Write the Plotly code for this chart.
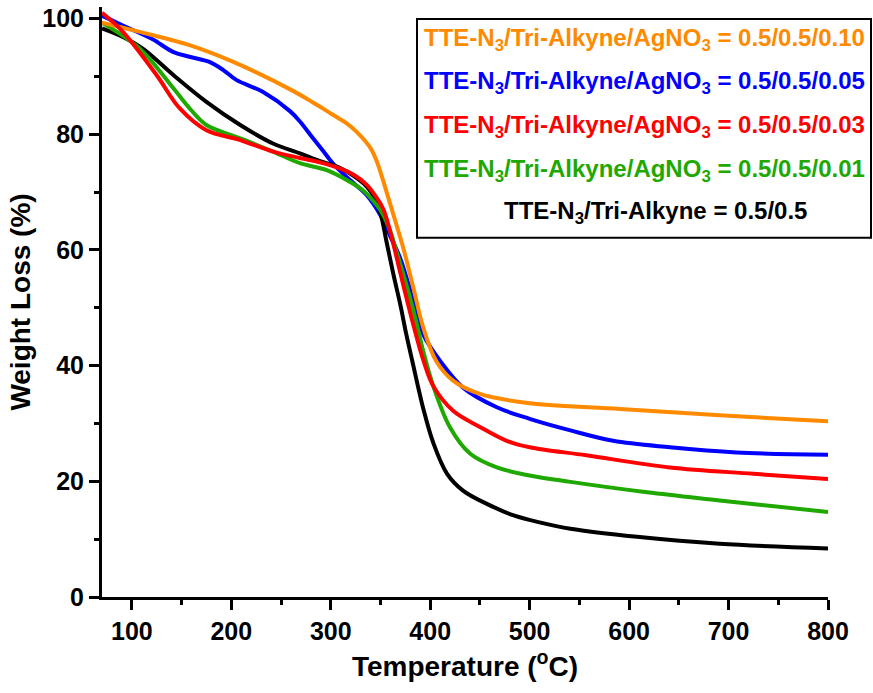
import plotly.graph_objects as go

# Temperature (°C) and weight (%)
x_010 = [70, 108, 158, 202, 262, 283, 300, 315, 326, 340, 347, 353, 363, 373, 383, 393, 406, 423, 450, 500, 591, 691, 800]
y_010 = [99.3, 97.7, 95.4, 92.5, 87.5, 85.4, 83.6, 82.0, 80.4, 77.6, 75.0, 71.8, 66.1, 60.3, 53.5, 46.6, 40.8, 37.4, 35.1, 33.5, 32.5, 31.4, 30.4]

x_005 = [70, 91, 120, 142, 158, 178, 192, 205, 232, 259, 269, 280, 292, 303, 320, 336, 350, 360, 370, 383, 393, 410, 433, 467, 500, 541, 584, 641, 708, 800]
y_005 = [100.5, 98.8, 96.5, 94.2, 93.4, 92.5, 91.1, 89.4, 87.3, 84.0, 82.2, 79.8, 77.2, 74.8, 72.0, 69.5, 66.0, 62.3, 58.5, 51.2, 45.4, 40.8, 36.2, 32.8, 30.8, 28.8, 27.0, 25.9, 25.0, 24.6]

x_003 = [70, 91, 125, 148, 175, 209, 242, 269, 290, 309, 323, 336, 345, 353, 363, 370, 383, 393, 403, 423, 450, 477, 500, 557, 641, 725, 800]
y_003 = [101.0, 97.7, 90.2, 84.5, 80.7, 79.0, 77.0, 75.9, 75.1, 74.1, 73.0, 71.3, 69.3, 67.0, 61.0, 56.0, 47.1, 41.0, 36.5, 32.2, 29.4, 27.0, 25.9, 24.5, 22.4, 21.3, 20.4]

x_001 = [70, 108, 142, 158, 175, 209, 242, 269, 296, 319, 333, 346, 353, 360, 366, 376, 385, 393, 403, 420, 440, 467, 500, 541, 618, 691, 800]
y_001 = [99.3, 94.8, 87.9, 84.5, 81.6, 79.3, 77.0, 75.0, 73.8, 71.8, 70.2, 67.8, 66.0, 63.2, 59.8, 54.0, 48.3, 42.5, 36.5, 29.3, 24.8, 22.4, 21.0, 19.9, 18.1, 16.7, 14.7]

x_ctrl = [70, 91, 111, 142, 175, 209, 242, 269, 290, 309, 323, 336, 343, 350, 356, 363, 370, 376, 382, 393, 403, 417, 433, 457, 484, 510, 541, 608, 691, 800]
y_ctrl = [98.3, 96.8, 94.8, 90.2, 85.6, 81.6, 78.4, 76.7, 75.3, 74.2, 72.8, 71.0, 69.3, 66.3, 61.5, 55.8, 50.5, 45.4, 40.8, 32.6, 26.7, 21.3, 18.4, 16.1, 14.1, 12.9, 11.8, 10.4, 9.2, 8.4]

labels = [
    "TTE-N<sub>3</sub>/Tri-Alkyne/AgNO<sub>3</sub> = 0.5/0.5/0.10",
    "TTE-N<sub>3</sub>/Tri-Alkyne/AgNO<sub>3</sub> = 0.5/0.5/0.05",
    "TTE-N<sub>3</sub>/Tri-Alkyne/AgNO<sub>3</sub> = 0.5/0.5/0.03",
    "TTE-N<sub>3</sub>/Tri-Alkyne/AgNO<sub>3</sub> = 0.5/0.5/0.01",
    "TTE-N<sub>3</sub>/Tri-Alkyne = 0.5/0.5",
]
colors = ["#FF8A00", "#0000FF", "#FF0000", "#1EA800", "#000000"]

series = {
    0: (x_010, y_010),
    1: (x_005, y_005),
    2: (x_003, y_003),
    3: (x_001, y_001),
    4: (x_ctrl, y_ctrl),
}
draw_order = [1, 4, 3, 0, 2]

FONT = "Arial, 'Liberation Sans', sans-serif"

fig = go.Figure()
for i in draw_order:
    xs, ys = series[i]
    fig.add_trace(go.Scatter(
        x=xs, y=ys, mode="lines",
        line=dict(color=colors[i], width=4, shape="spline", smoothing=1.0),
        showlegend=False, name=labels[i],
    ))

fig.update_layout(
    width=873, height=693,
    margin=dict(l=102, r=45, t=4, b=96),
    plot_bgcolor="white", paper_bgcolor="white",
    font=dict(family=FONT, color="black"),
)

fig.update_xaxes(
    range=[70, 800], showgrid=False, zeroline=False,
    showline=True, linecolor="black", linewidth=3,
    ticks="outside", ticklen=10, tickwidth=3, tickcolor="black",
    tickvals=[100, 200, 300, 400, 500, 600, 700, 800],
    tickfont=dict(size=25, family=FONT, weight="bold"),
    minor=dict(ticks="outside", ticklen=5, tickwidth=3, tickcolor="black",
               tickvals=[150, 250, 350, 450, 550, 650, 750]),
    title=dict(text="Temperature (<sup>o</sup>C)", font=dict(size=28, family=FONT, weight="bold"), standoff=13),
)
fig.update_yaxes(
    range=[0, 102], showgrid=False, zeroline=False,
    showline=True, linecolor="black", linewidth=3,
    ticks="outside", ticklen=10, tickwidth=3, tickcolor="black",
    tickvals=[0, 20, 40, 60, 80, 100],
    tickfont=dict(size=25, family=FONT, weight="bold"),
    minor=dict(ticks="outside", ticklen=5, tickwidth=3, tickcolor="black",
               tickvals=[10, 30, 50, 70, 90]),
    title=dict(text="Weight Loss (%)", font=dict(size=28, family=FONT, weight="bold"), standoff=4),
)

# legend box drawn as shape + text annotations
L, R, T, B = 102, 828, 4, 597
def px_to_paper(px, py):
    return (px - L) / (R - L), (B - py) / (B - T)

x0, y0 = px_to_paper(417, 16)
x1, y1 = px_to_paper(871, 236)
fig.add_shape(type="rect", xref="paper", yref="paper", x0=x0, y0=y1, x1=x1, y1=y0,
              line=dict(color="black", width=2), fillcolor="white", layer="above")

rows_y = [37, 80, 124, 168, 211]
for k, (lab, col) in enumerate(zip(labels, colors)):
    if k < 4:
        ax, _ = px_to_paper(422, 0)
        xanchor = "left"
    else:
        ax, _ = px_to_paper(655, 0)
        xanchor = "center"
    _, ay = px_to_paper(0, rows_y[k])
    fig.add_annotation(x=ax, y=ay, xref="paper", yref="paper", text=lab, showarrow=False,
                       xanchor=xanchor, yanchor="middle",
                       font=dict(size=24, color=col, family=FONT, weight="bold"))

fig.write_html("out.html")
